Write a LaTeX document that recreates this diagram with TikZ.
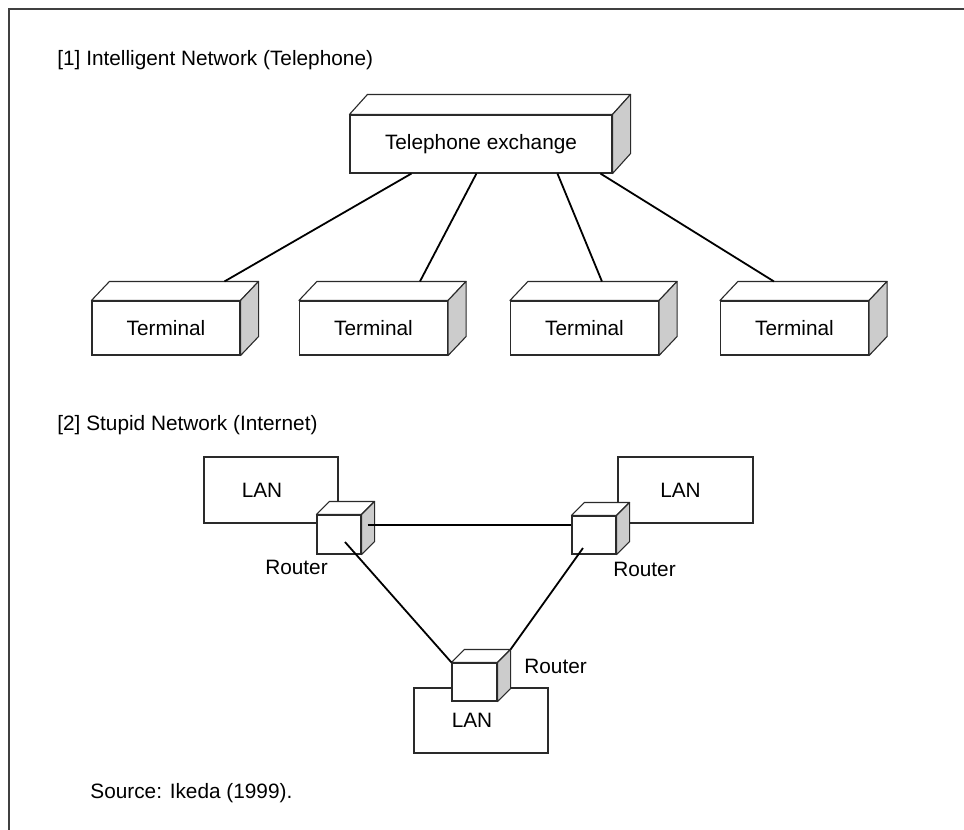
\documentclass[tikz,border=0pt]{standalone}
\usepackage{fontspec}
\setmainfont{Liberation Sans}
\usetikzlibrary{calc}
\definecolor{edge}{HTML}{2A2A2A}
\definecolor{sidegray}{HTML}{CCCCCC}
\definecolor{framecol}{HTML}{404040}
% front face of a solid box; top and right faces are added by \solidfaces
\tikzset{
  frontface/.style={draw=edge, fill=white, line width=0.55pt, inner sep=0pt,
    font=\fontsize{10.4}{12}\selectfont},
  lanbox/.style={draw=edge, fill=white, line width=0.55pt, inner sep=0pt,
    minimum width=67pt, minimum height=33pt, font=\fontsize{10.4}{12}\selectfont},
  face/.style={draw=edge, fill=white, line width=0.55pt, line join=round},
  link/.style={draw=black, line width=0.9pt},
  caption/.style={inner sep=0pt, font=\fontsize{10.4}{12}\selectfont},
}
% #1 node name, #2/#3 depth offset (right, up) in picture units
\newcommand{\solidfaces}[3]{%
  \path[face] (#1.north west) -- ++(#2,-#3) -- ([shift={(#2,-#3)}]#1.north east)
    -- (#1.north east) -- cycle;
  \path[face, fill=sidegray] (#1.north east) -- ++(#2,-#3)
    -- ([shift={(#2,-#3)}]#1.south east) -- (#1.south east) -- cycle;
}
\begin{document}
\begin{tikzpicture}[x=0.5pt, y=-0.5pt]
\useasboundingbox (0,0) rectangle (964,830);

% outer frame (top and left rules)
\draw[framecol, line width=0.8pt] (9,830) -- (9,9) -- (964,9);

% ---------- [1] telephone network ----------
\node[caption, anchor=base west] (h1) at (57,65) {[1] Intelligent Network (Telephone)};

\node[frontface, minimum width=131pt, minimum height=29pt] (ex) at (481,144) {Telephone exchange};
\solidfaces{ex}{18}{20}

\foreach \n/\x in {t1/166, t2/373.5, t3/584.5, t4/794.5}{
  \node[frontface, minimum width=74pt, minimum height=27pt] (\n) at (\x,328) {Terminal};
  \solidfaces{\n}{18}{19}
}

\draw[link] ($(ex.south west)+(62,0)$)  -- ($(t1.north west)+(133,-19)$);
\draw[link] ($(ex.south west)+(127,0)$) -- ($(t2.north west)+(121,-19)$);
\draw[link] ($(ex.south west)+(208,0)$) -- ($(t3.north west)+(92,-19)$);
\draw[link] ($(ex.south west)+(251,0)$) -- ($(t4.north west)+(54,-19)$);

% ---------- [2] internet ----------
\node[caption, anchor=base west] (h2) at (57,430) {[2] Stupid Network (Internet)};

\node[lanbox] (lan1) at (271,490) {\hspace*{-9pt}LAN};
\node[lanbox, minimum width=67.5pt] (lan2) at (685.5,490) {\hspace*{-5pt}LAN};
\node[lanbox, minimum height=32.5pt] (lan3) at (481,720.5) {\hspace*{-9pt}\raisebox{-2pt}{LAN}};

\node[frontface, minimum width=22pt, minimum height=19.5pt] (r1) at (339,534.5) {};
\solidfaces{r1}{13}{13}
\node[frontface, minimum width=22pt, minimum height=19pt] (r2) at (594,535) {};
\solidfaces{r2}{13}{13}
\node[frontface, minimum width=22.5pt, minimum height=19pt] (r3) at (474.5,682) {};
\solidfaces{r3}{13}{13}

\node[caption, anchor=base] (r1l) at (296.5,574) {Router};
\node[caption, anchor=base] (r2l) at (644.5,576) {Router};
\node[caption, anchor=base west] (r3l) at (524,673) {Router};

\draw[link] ($(r1.east)+(6,-9.5)$) -- ($(r2.west)+(0,-10)$);
\draw[link] ($(r1.center)+(6,7.5)$) -- (r3.north west);
\draw[link] ($(r2.center)+(-11,13)$) -- ($(r3.north east)+(13,-13)$);

% source line
\node[caption, anchor=base west] (src) at (90,798) {Source: Ikeda (1999).};
\end{tikzpicture}
\end{document}
